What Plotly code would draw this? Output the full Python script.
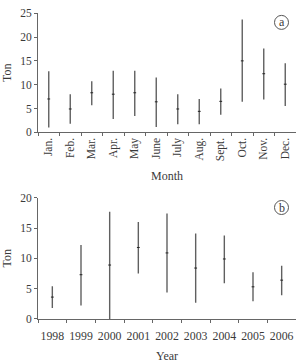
import plotly.graph_objects as go
from plotly.subplots import make_subplots

# Panel a: monthly catch (Ton)
months = ["Jan.", "Feb.", "Mar.", "Apr.", "May", "June", "July", "Aug.", "Sept.", "Oct.", "Nov.", "Dec."]
month_mean = [7.0, 4.9, 8.3, 8.0, 8.3, 6.4, 4.9, 4.4, 6.5, 15.0, 12.3, 10.1]
month_high = [12.8, 8.0, 10.7, 12.9, 12.9, 11.5, 8.0, 7.0, 9.2, 23.7, 17.6, 14.5]
month_low = [1.0, 1.8, 5.7, 2.8, 3.4, 1.1, 1.7, 1.7, 3.7, 6.4, 6.9, 5.5]

# Panel b: yearly catch (Ton)
years = ["1998", "1999", "2000", "2001", "2002", "2003", "2004", "2005", "2006"]
year_mean = [3.6, 7.3, 8.9, 11.8, 10.9, 8.4, 9.9, 5.3, 6.4]
year_high = [5.4, 12.2, 17.7, 16.0, 17.4, 14.1, 13.8, 7.7, 8.8]
year_low = [1.8, 2.2, 0.0, 7.5, 4.35, 2.65, 5.9, 2.9, 3.9]

LINE = "#606060"
TXT = "#3a3a3a"
FONT = "Liberation Serif"

fig = make_subplots(rows=2, cols=1)


def add_panel(cats, mean, high, low, row):
    fig.add_trace(
        go.Scatter(
            x=cats,
            y=mean,
            mode="markers",
            marker=dict(symbol="line-ew", size=2, line=dict(width=1, color="#222")),
            error_y=dict(
                type="data",
                symmetric=False,
                array=[h - m for h, m in zip(high, mean)],
                arrayminus=[m - l for m, l in zip(mean, low)],
                thickness=1.4,
                width=0,
                color=LINE,
            ),
            showlegend=False,
        ),
        row=row,
        col=1,
    )


add_panel(months, month_mean, month_high, month_low, 1)
add_panel(years, year_mean, year_high, year_low, 2)

H = 363.0
top_dom = [1 - 131 / H, 1 - 7.5 / H]
bot_dom = [1 - 324.5 / H, 1 - 199 / H]

axis_common = dict(
    showgrid=False,
    zeroline=False,
    showline=True,
    linecolor="#666",
    linewidth=1,
    ticks="outside",
    ticklen=3,
    tickcolor="#666",
    tickfont=dict(family=FONT, size=11.5, color=TXT),
)

fig.update_xaxes(
    **axis_common,
    type="category",
    range=[-0.5, 11.5],
    tickson="boundaries",
    tickangle=-90,
    title=dict(text="Month", font=dict(family=FONT, size=12, color=TXT), standoff=11),
    row=1,
    col=1,
)
fig.update_xaxes(
    **axis_common,
    type="category",
    range=[-0.5, 8.5],
    tickson="boundaries",
    tickangle=0,
    ticklabelstandoff=6,
    title=dict(text="Year", font=dict(family=FONT, size=12, color=TXT), standoff=12),
    row=2,
    col=1,
)
fig.update_xaxes(tickfont=dict(size=11.8), row=2, col=1)
fig.update_yaxes(
    **axis_common,
    range=[0, 25],
    dtick=5,
    domain=top_dom,
    title=dict(text="Ton", font=dict(family=FONT, size=12, color=TXT), standoff=8),
    row=1,
    col=1,
)
fig.update_yaxes(
    **axis_common,
    range=[0, 20],
    dtick=5,
    domain=bot_dom,
    title=dict(text="Ton", font=dict(family=FONT, size=12, color=TXT), standoff=8),
    row=2,
    col=1,
)
fig.update_xaxes(domain=[0, 1])

# Panel labels in circles
for lab, yc in (("a", 1 - 17 / H), ("b", 1 - 209 / H)):
    fig.add_shape(
        type="circle",
        xref="paper",
        yref="paper",
        xsizemode="pixel",
        ysizemode="pixel",
        xanchor=(281.5 - 38) / 258.0,
        yanchor=yc,
        x0=-7,
        x1=7,
        y0=-7,
        y1=7,
        line=dict(color="#555", width=1),
    )
    fig.add_annotation(
        text=lab,
        xref="paper",
        yref="paper",
        x=(281.5 - 38) / 258.0,
        y=yc,
        showarrow=False,
        font=dict(family=FONT, size=12, color=TXT),
        xanchor="center",
        yanchor="middle",
    )

fig.update_layout(
    width=296,
    height=363,
    margin=dict(l=38, r=0, t=0, b=0),
    plot_bgcolor="white",
    paper_bgcolor="white",
    font=dict(family=FONT, color=TXT),
)

fig.write_html("out.html")
